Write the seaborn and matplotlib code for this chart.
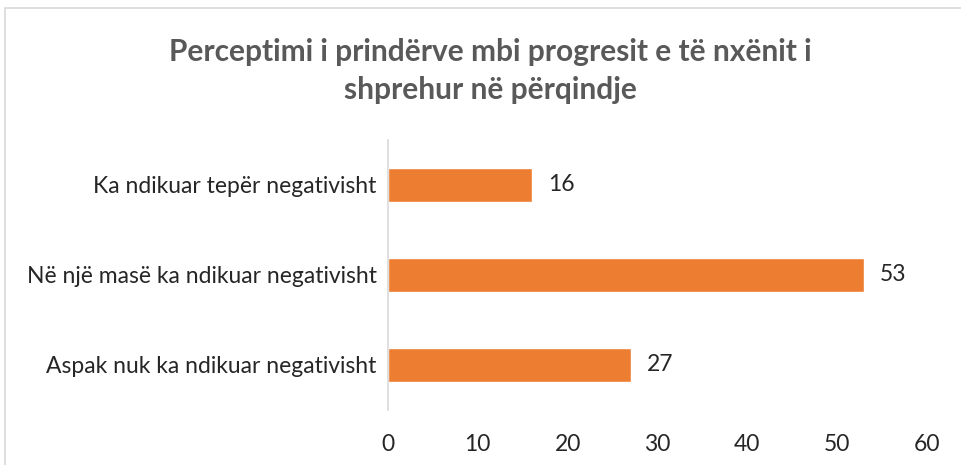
import seaborn as sns
import matplotlib.pyplot as plt
from matplotlib.patches import Rectangle
import pandas as pd

categories = ['Ka ndikuar tepër negativisht',
              'Në një masë ka ndikuar negativisht',
              'Aspak nuk ka ndikuar negativisht']
values = [16, 53, 27]
title = 'Perceptimi i prindërve mbi progresit e të nxënit i\nshprehur në përqindje'

df = pd.DataFrame({'cat': categories, 'val': values})

sns.set_style('white')
plt.rcParams['font.family'] = ['Lato', 'DejaVu Sans']

fig = plt.figure(figsize=(9.61, 4.65), dpi=100)
ax = fig.add_axes([0.4037, 0.1183, 0.5609, 0.5807])

sns.barplot(data=df, x='val', y='cat', orient='h', color='#ED7D31',
            saturation=1, width=0.38, ax=ax)

ax.set_xlim(0, 60)
ax.set_ylim(2.5, -0.5)
ax.set_xticks(range(0, 61, 10))
ax.set_xlabel('')
ax.set_ylabel('')
for s in ['top', 'right', 'bottom']:
    ax.spines[s].set_visible(False)
ax.spines['left'].set_color('#D9D9D9')
ax.spines['left'].set_linewidth(1.2)
ax.tick_params(axis='both', length=0, labelsize=16.5, colors='#262626')
ax.tick_params(axis='x', pad=17)
ax.tick_params(axis='y', pad=8)

for i, v in enumerate(values):
    ax.text(v + 1.8, i, str(v), va='center', ha='left', fontsize=16.5, color='#262626')

fig.text(0.51, 0.848, title, ha='center', va='center', fontsize=21.5,
         fontweight='bold', color='#595959', linespacing=1.45)

fig.patches.append(Rectangle((0.005, -0.1), 1.2, 1.083, transform=fig.transFigure,
                             fill=False, edgecolor='#D9D9D9', linewidth=1.2))

fig.savefig('out.png', dpi=100)
